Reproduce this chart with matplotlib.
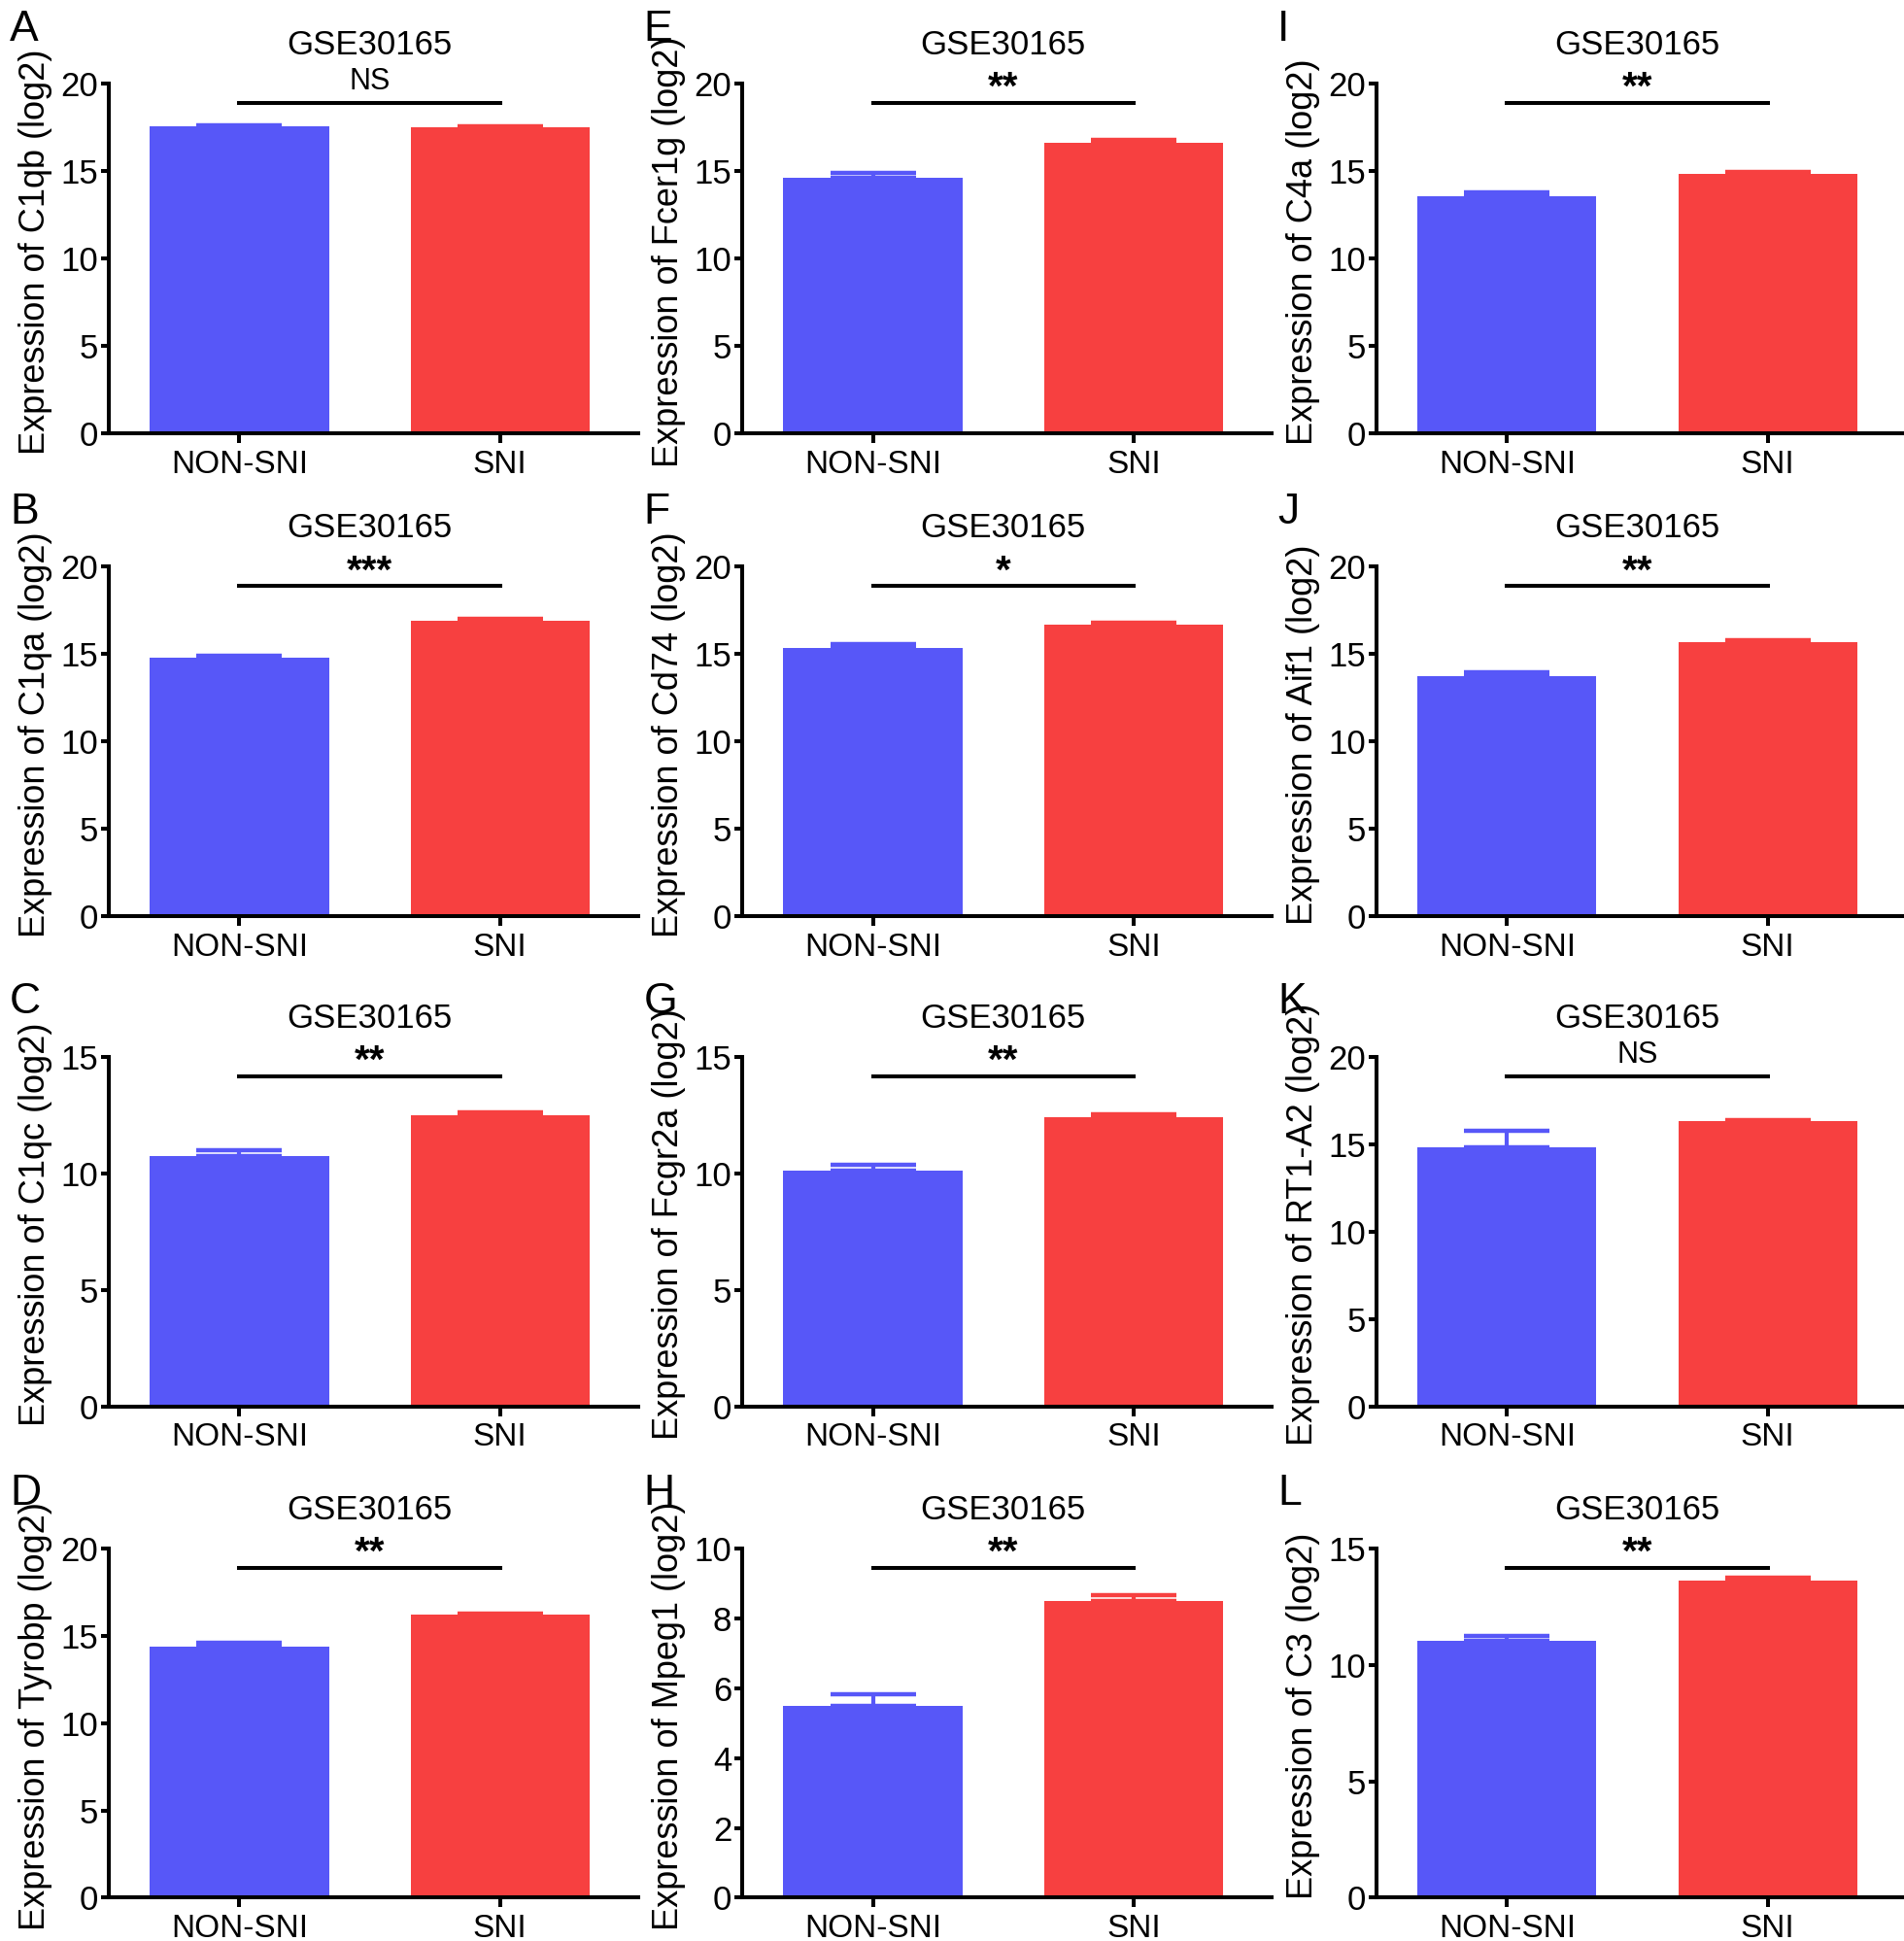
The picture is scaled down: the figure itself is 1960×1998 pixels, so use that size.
import numpy as np
import matplotlib
matplotlib.use('Agg')
import matplotlib.pyplot as plt

plt.rcParams['font.family'] = ['Liberation Sans', 'DejaVu Sans']

# panel data (column-major: A-D, E-H, I-L)
letters = ['A', 'B', 'C', 'D', 'E', 'F', 'G', 'H', 'I', 'J', 'K', 'L']
genes = ['C1qb', 'C1qa', 'C1qc', 'Tyrobp', 'Fcer1g', 'Cd74', 'Fcgr2a', 'Mpeg1',
         'C4a', 'Aif1', 'RT1-A2', 'C3']
groups = ['NON-SNI', 'SNI']
non_sni_mean = [17.55, 14.8, 10.75, 14.4, 14.65, 15.35, 10.1, 5.48, 13.55, 13.75, 14.85, 11.05]
non_sni_sem = [0.1, 0.12, 0.25, 0.2, 0.25, 0.2, 0.25, 0.35, 0.22, 0.2, 0.9, 0.18]
sni_mean = [17.5, 16.9, 12.5, 16.2, 16.65, 16.7, 12.4, 8.5, 14.85, 15.7, 16.3, 13.6]
sni_sem = [0.05, 0.1, 0.1, 0.08, 0.12, 0.12, 0.15, 0.15, 0.12, 0.08, 0.08, 0.15]
sig = ['NS', '***', '**', '**', '**', '*', '**', '**', '**', '**', 'NS', '**']
ymax = [20, 20, 15, 20, 20, 20, 15, 10, 20, 20, 20, 15]
ystep = [5, 5, 5, 5, 5, 5, 5, 2, 5, 5, 5, 5]
dataset = 'GSE30165'

blue = '#5757F8'
red = '#F74040'

fig = plt.figure(figsize=(19.6, 19.98), dpi=100)

col_left = [0.0572, 0.390, 0.723]
row_bottom = [0.7768, 0.528, 0.2755, 0.0223]
ax_w = 0.278
ax_h = 0.180
lw = 2.9

for i in range(12):
    c = i // 4
    r = i % 4
    ax = fig.add_axes([col_left[c], row_bottom[r], ax_w, ax_h])
    x = np.arange(2)
    means = [non_sni_mean[i], sni_mean[i]]
    sems = [non_sni_sem[i], sni_sem[i]]
    cols = [blue, red]
    for k in range(2):
        ax.errorbar(x[k], means[k], yerr=[[0], [sems[k]]], fmt='none',
                    ecolor=cols[k], elinewidth=3, capsize=32, capthick=3.2, zorder=1)
    ax.bar(x, means, width=0.687, color=cols, zorder=2)

    ax.set_xlim(-0.5, 1.53)
    ax.set_ylim(0, ymax[i])
    ax.set_yticks(np.arange(0, ymax[i] + 0.1, ystep[i]))
    ax.set_xticks(x)
    ax.set_xticklabels(groups)
    for s in ['top', 'right']:
        ax.spines[s].set_visible(False)
    for s in ['left', 'bottom']:
        ax.spines[s].set_linewidth(lw)
    ax.tick_params(axis='y', width=lw, length=6, labelsize=25, pad=2)
    ax.tick_params(axis='x', width=lw, length=7, labelsize=24, pad=5)
    ax.set_ylabel('Expression of %s (log2)' % genes[i], fontsize=26)
    ax.yaxis.set_label_coords(-0.107, 0.52)

    # significance bar
    yl = 0.945 * ymax[i]
    ax.plot([0, 1], [yl, yl], color='black', lw=lw, clip_on=False)
    if sig[i] == 'NS':
        ax.annotate(sig[i], (0.5, yl), xytext=(0, 5), textcoords='offset points',
                    ha='center', va='bottom', fontsize=22, annotation_clip=False)
    else:
        ax.annotate(sig[i], (0.5, yl), xytext=(0, -3), textcoords='offset points',
                    ha='center', va='bottom', fontsize=29, fontweight='bold',
                    annotation_clip=False)

    ax.text(0.5, 1.11, dataset, transform=ax.get_xaxis_transform(),
            ha='center', va='center', fontsize=25)

    fig.text(col_left[c] - 0.052, row_bottom[r] + ax_h + 0.028,
             letters[i], ha='left', va='center', fontsize=32)

fig.savefig('out.png', dpi=100)
